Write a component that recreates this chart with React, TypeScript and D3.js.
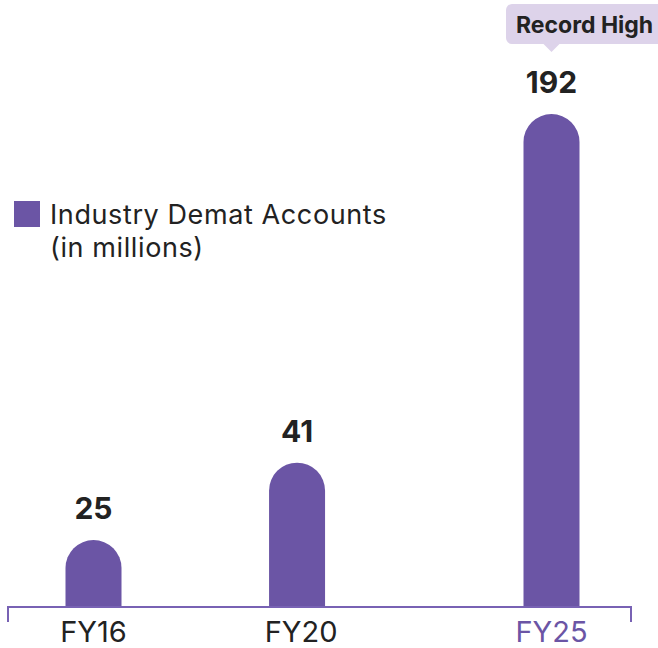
import React from "react";
import * as d3 from "d3";

const fiscalYears = [2016, 2020, 2025];
const yearLabels = ["FY16", "FY20", "FY25"];
const dematAccounts = [25, 41, 192];
const legendLines = ["Industry Demat Accounts", "(in millions)"];
const badgeText = "Record High";

const W = 658;
const H = 648;
const barColor = "#6b55a5";
const axisColor = "#7862b4";
const font = "Inter, 'Noto Sans', sans-serif";

const App = () => {
  const baseline = 607;
  const barW = 56;

  const x = d3.scaleLinear().domain([2016, 2025]).range([93.5, 551.5]);

  // infographic heights are not linear, so a compressed power scale is used
  const y = d3.scalePow().exponent(0.35).domain([15, 192]).range([baseline, 114]);

  const barPath = (cx: number, top: number) => {
    const r = barW / 2;
    const p = d3.path();
    p.moveTo(cx - r, baseline);
    p.lineTo(cx - r, top + r);
    p.arc(cx, top + r, r, Math.PI, 0);
    p.lineTo(cx + r, baseline);
    p.closePath();
    return p.toString();
  };

  const lastIdx = dematAccounts.length - 1;
  const peakX = x(fiscalYears[lastIdx]);
  const peakTop = y(dematAccounts[lastIdx]);

  return (
    <div style={{ position: "fixed", left: 0, top: 0 }}>
      <svg width={W} height={H} style={{ display: "block" }}>
        <rect width={W} height={H} fill="#fff" />

        {/* legend */}
        <rect x={14} y={201} width={26} height={26} fill={barColor} />
        {legendLines.map((t, i) => (
          <text
            key={t}
            x={50}
            y={224 + i * 33}
            fontFamily={font}
            fontSize={27}
            letterSpacing={0.6}
            fill="#222"
          >
            {t}
          </text>
        ))}

        {/* bars */}
        {dematAccounts.map((v, i) => {
          const cx = x(fiscalYears[i]);
          const top = y(v);
          return (
            <g key={yearLabels[i]}>
              <path d={barPath(cx, top)} fill={barColor} />
              <text
                x={cx}
                y={top - 21}
                textAnchor="middle"
                fontFamily={font}
                fontWeight={700}
                fontSize={30}
                fill="#222"
              >
                {v}
              </text>
            </g>
          );
        })}

        {/* badge above the highest bar */}
        <g>
          <rect x={506} y={4} width={170} height={40} rx={6} fill="#ddd3ea" />
          <path
            d={`M${peakX - 9},43 L${peakX},${peakTop - 62} L${peakX + 9},43 Z`}
            fill="#ddd3ea"
          />
          <text
            x={516}
            y={33}
            fontFamily={font}
            fontWeight={700}
            fontSize={23}
            fill="#222"
          >
            {badgeText}
          </text>
        </g>

        {/* axis */}
        <path
          d={`M8,622 V${baseline} H631 V622`}
          fill="none"
          stroke={axisColor}
          strokeWidth={2}
        />
        {yearLabels.map((l, i) => (
          <text
            key={l}
            x={x(fiscalYears[i]) + (i === 1 ? 4 : 0)}
            y={642}
            textAnchor="middle"
            fontFamily={font}
            fontSize={29}
            fill={i === lastIdx ? barColor : "#222"}
          >
            {l}
          </text>
        ))}
      </svg>
    </div>
  );
};

export default App;
